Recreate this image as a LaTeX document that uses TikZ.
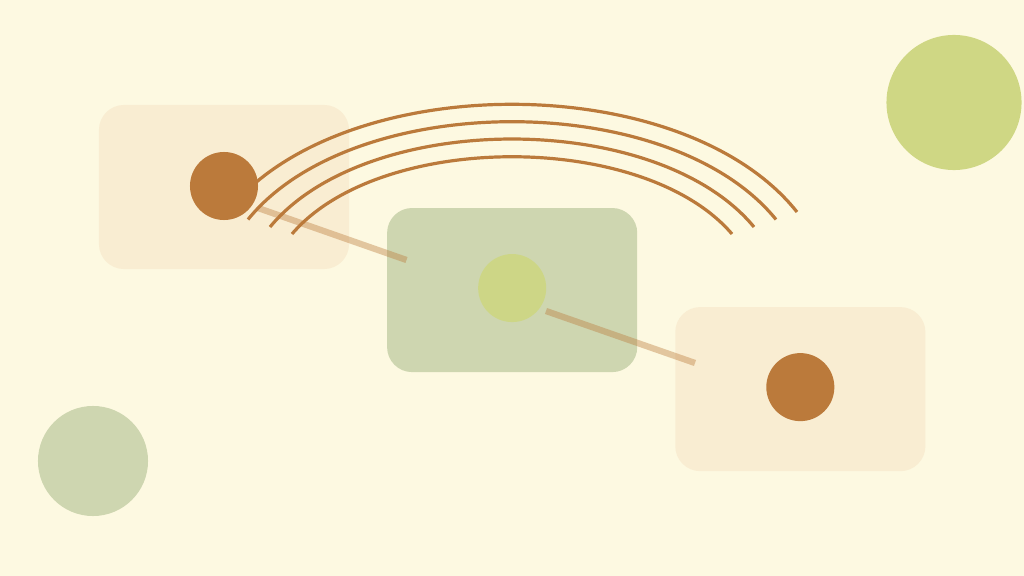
\documentclass[tikz,border=0pt]{standalone}
\usetikzlibrary{positioning}

\definecolor{cream}{HTML}{FDF9E1}
\definecolor{sand}{HTML}{F9EDD2}
\definecolor{sage}{HTML}{CED6B0}
\definecolor{rust}{HTML}{BB7A3B}
\definecolor{pear}{HTML}{CDD686}
\definecolor{moss}{HTML}{CFD784}

\begin{document}
\begin{tikzpicture}[x = 0.01cm, y = -0.01cm,
    panel/.style = {rectangle, rounded corners = 0.25cm, minimum width = 2.5cm, minimum height = 1.64cm, inner sep = 0pt},
    dot/.style = {circle, minimum size = 0.68cm, inner sep = 0pt, fill = rust},
    link/.style = {rust, opacity = 0.4, line width = 0.063cm},
    wave/.style = {rust, line width = 0.032cm}]

    \useasboundingbox (0,0) rectangle (1024,576);
    \fill[cream] (0,0) rectangle (1024,576);

    %\draw[help lines, opacity = 0.1] (0,0) grid[step = 100] (1024,576);

    \begin{scope}[on grid]

        \node (box1) at (224,187) [panel, fill = sand] {};
        \node (box2) [panel, fill = sage, below right = 1.03cm and 2.88cm of box1] {};
        \node (box3) [panel, fill = sand, below right = 0.99cm and 2.88cm of box2] {};

    \end{scope}

    \node (sun) at (954,102.5) [circle, fill = moss, minimum size = 1.35cm, inner sep = 0pt] {};
    \node (bush) at (93,461) [circle, fill = sage, minimum size = 1.1cm, inner sep = 0pt] {};

    \coordinate (l1s) at (258,208);
    \coordinate (l1e) at (406.5,260);
    \coordinate (l2s) at (546,311);
    \coordinate (l2e) at (695,363);

    \draw[link] (l1s) -- (l1e);
    \draw[link] (l2s) -- (l2e);

    \draw[wave] (227,212) .. controls +(114,-143.6) and +(-114,-143.6) .. (797,212);
    \draw[wave] (248,219.5) .. controls +(105.6,-130.4) and +(-105.6,-130.4) .. (776,219.5);
    \draw[wave] (270,227) .. controls +(96.8,-117.3) and +(-96.8,-117.3) .. (754,227);
    \draw[wave] (292,234) .. controls +(88,-103) and +(-88,-103) .. (732,234);

    \node (dot1) at (box1) [dot, yshift = 0.01cm] {};
    \node (dot2) at (box2) [dot, fill = pear, yshift = 0.02cm] {};
    \node (dot3) at (box3) [dot, yshift = 0.02cm] {};

\end{tikzpicture}
\end{document}
